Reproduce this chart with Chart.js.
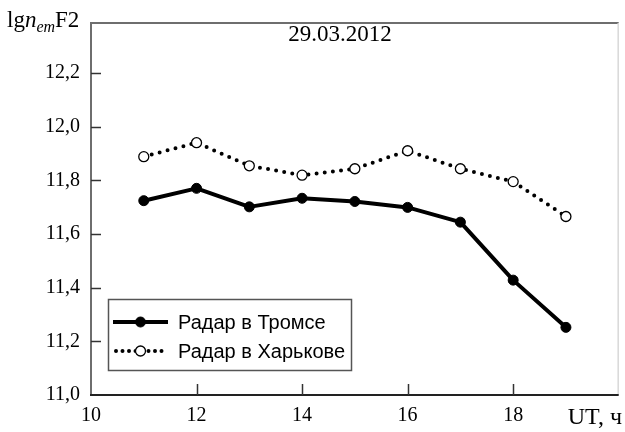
<!DOCTYPE html>
<html>
<head>
<meta charset="utf-8">
<script src="https://cdn.jsdelivr.net/npm/chart.js@4.4.1/dist/chart.umd.min.js"></script>
<style>
  html, body { margin: 0; padding: 0; background: #fff; }
  #wrap { width: 625px; height: 432px; position: relative; }
</style>
</head>
<body>
<div id="wrap"><canvas id="c" width="625" height="432"></canvas></div>
<script>
// ---- data ----
const hours = [11, 12, 13, 14, 15, 16, 17, 18, 19];
const tromso = [11.724, 11.770, 11.701, 11.733, 11.721, 11.699, 11.644, 11.428, 11.252];
const kharkiv = [11.888, 11.940, 11.854, 11.819, 11.843, 11.910, 11.843, 11.795, 11.665];
const seriesNames = ['Радар в Тромсе', 'Радар в Харькове'];
const xTicks = [10, 12, 14, 16, 18];
const yTicks = [11.0, 11.2, 11.4, 11.6, 11.8, 12.0, 12.2];
const titleText = '29.03.2012';
const xAxisLabel = 'UT, ч';

const SERIF = '"Liberation Serif", "Times New Roman", serif';
const SANS = '"Liberation Sans", Arial, sans-serif';

const decorPlugin = {
  id: 'decor',
  afterDatasetsDraw(chart) {
    const ctx = chart.ctx;
    const a = chart.chartArea;
    const xs = chart.scales.x, ys = chart.scales.y;
    ctx.save();
    // frame
    ctx.lineCap = 'butt';
    ctx.strokeStyle = '#6e6e6e'; ctx.lineWidth = 2;
    ctx.beginPath(); ctx.moveTo(a.left, a.bottom); ctx.lineTo(a.left, a.top); ctx.lineTo(a.right, a.top); ctx.stroke();
    ctx.strokeStyle = '#d8d8d8'; ctx.lineWidth = 1.5;
    ctx.beginPath(); ctx.moveTo(a.right - 0.5, a.top); ctx.lineTo(a.right - 0.5, a.bottom); ctx.stroke();
    ctx.strokeStyle = '#222'; ctx.lineWidth = 2;
    ctx.beginPath(); ctx.moveTo(a.left - 1, a.bottom); ctx.lineTo(a.right, a.bottom); ctx.stroke();
    // inward ticks
    ctx.strokeStyle = '#333'; ctx.lineWidth = 1.5;
    yTicks.forEach(v => {
      const y = Math.round(ys.getPixelForValue(v)) + 0.5;
      if (v === yTicks[0]) return;
      ctx.beginPath(); ctx.moveTo(a.left, y); ctx.lineTo(a.left + 10, y); ctx.stroke();
    });
    xTicks.forEach(v => {
      if (v === xTicks[0]) return;
      const x = Math.round(xs.getPixelForValue(v)) + 0.5;
      ctx.beginPath(); ctx.moveTo(x, a.bottom); ctx.lineTo(x, a.bottom - 11); ctx.stroke();
    });
    // title
    ctx.fillStyle = '#000';
    ctx.font = '23px ' + SERIF;
    ctx.textAlign = 'center'; ctx.textBaseline = 'alphabetic';
    ctx.fillText(titleText, 340, 41);
    // x axis label
    ctx.font = '24px ' + SERIF;
    ctx.textAlign = 'right';
    ctx.fillText(xAxisLabel, 622, 424);
    // y axis label: lg n_em F2
    ctx.textAlign = 'left';
    let x = 7;
    const base = 27;
    ctx.font = '23px ' + SERIF; ctx.fillText('lg', x, base); x += ctx.measureText('lg').width;
    ctx.font = 'italic 23px ' + SERIF; ctx.fillText('n', x, base); x += ctx.measureText('n').width;
    ctx.font = 'italic 16px ' + SERIF; ctx.fillText('em', x, base + 5); x += ctx.measureText('em').width;
    ctx.font = '23px ' + SERIF; ctx.fillText('F2', x, base);
    // legend
    const lx = 108, ly = 299, lw = 243, lh = 71;
    ctx.fillStyle = '#fff';
    ctx.fillRect(lx, ly, lw, lh);
    ctx.strokeStyle = '#555'; ctx.lineWidth = 1.5;
    ctx.strokeRect(lx + 0.5, ly + 0.5, lw, lh);
    const rows = [322, 351];
    chart.data.datasets.forEach((ds, i) => {
      const y = rows[i];
      ctx.save();
      ctx.strokeStyle = ds.borderColor;
      ctx.lineWidth = ds.borderWidth;
      ctx.lineCap = ds.borderCapStyle || 'butt';
      ctx.setLineDash(i === 0 ? [] : [0, 6.5]);
      ctx.beginPath(); ctx.moveTo(i === 0 ? 113 : 116, y); ctx.lineTo(168, y); ctx.stroke();
      ctx.setLineDash([]);
      ctx.beginPath(); ctx.arc(140.5, y, ds.pointRadius, 0, Math.PI * 2);
      ctx.fillStyle = ds.pointBackgroundColor; ctx.fill();
      ctx.lineWidth = ds.pointBorderWidth; ctx.strokeStyle = ds.pointBorderColor; ctx.stroke();
      ctx.restore();
      ctx.fillStyle = '#000';
      ctx.font = '20px ' + SANS;
      ctx.textAlign = 'left'; ctx.textBaseline = 'middle';
      ctx.fillText(ds.label, 178, y + 1);
    });
    ctx.restore();
  }
};

new Chart(document.getElementById('c'), {
  type: 'line',
  data: {
    datasets: [
      {
        label: seriesNames[0],
        data: hours.map((h, i) => ({ x: h, y: tromso[i] })),
        borderColor: '#000', borderWidth: 4, borderJoinStyle: 'round',
        pointRadius: 5, pointBackgroundColor: '#000', pointBorderColor: '#000', pointBorderWidth: 1,
        tension: 0
      },
      {
        label: seriesNames[1],
        data: hours.map((h, i) => ({ x: h, y: kharkiv[i] })),
        borderColor: '#000', borderWidth: 4, borderDash: [0, 8.2], borderCapStyle: 'round',
        pointRadius: 5, pointBackgroundColor: '#fff', pointBorderColor: '#000', pointBorderWidth: 1.3,
        tension: 0
      }
    ]
  },
  options: {
    responsive: false,
    animation: false,
    layout: { padding: { top: 7, right: 1, left: 0, bottom: 0 } },
    plugins: { legend: { display: false }, tooltip: { enabled: false } },
    scales: {
      x: {
        type: 'linear', min: 10, max: 20,
        afterBuildTicks: s => { s.ticks = xTicks.map(v => ({ value: v })); },
        afterFit: s => { s.height = 37; },
        grid: { display: false, drawTicks: false },
        border: { display: false },
        ticks: { padding: 9, color: '#000', font: { family: SERIF, size: 20 }, maxRotation: 0, autoSkip: false }
      },
      y: {
        type: 'linear', min: 11, max: 12.386,
        afterBuildTicks: s => { s.ticks = yTicks.map(v => ({ value: v })); },
        afterFit: s => { s.width = 91; },
        grid: { display: false, drawTicks: false },
        border: { display: false },
        ticks: { padding: 11, color: '#000', font: { family: SERIF, size: 20 },
                 callback: v => Number(v).toFixed(1).replace('.', ',') }
      }
    }
  },
  plugins: [decorPlugin]
});
</script>
</body>
</html>
